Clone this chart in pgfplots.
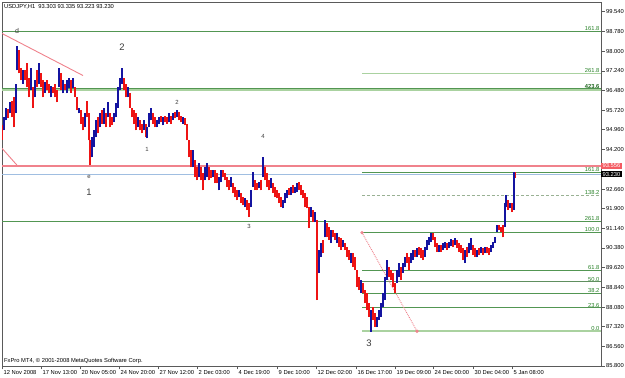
\documentclass[border=0pt]{standalone}
\usepackage{fontspec}
\setmainfont{Liberation Sans}
\usepackage{pgfplots}
\usepackage{pgfplotstable}
\pgfplotsset{compat=1.18}
\definecolor{fibg}{RGB}{82,150,82}
\definecolor{fibpale}{RGB}{170,210,160}
\definecolor{fibtxt}{RGB}{40,130,40}
\definecolor{barred}{RGB}{238,20,20}
\definecolor{barblue}{RGB}{20,20,160}
\definecolor{pinkl}{RGB}{240,130,140}
\definecolor{bidblue}{RGB}{160,190,225}
\definecolor{axgray}{RGB}{90,90,90}
\definecolor{wavegray}{RGB}{60,60,60}
\newcommand{\tf}{\fontsize{5.8}{7}\selectfont}

\pgfplotstableread{
x hi lo
4 95.44 94.93
6 95.82 95.32
10 96.02 95.59
16 96.75 95.59
17 98.22 97.26
23 97.26 96.75
31 97.37 96.48
35 96.87 96.21
39 97.53 96.75
45 96.79 96.40
51 96.67 96.21
59 97.37 96.60
63 96.87 96.37
67 96.87 96.37
69 96.98 96.56
73 96.95 96.56
79 95.82 95.59
85 95.59 95.05
92 94.66 93.89
94 94.93 94.28
96 95.32 94.66
100 95.59 95.05
104 95.82 95.20
108 96.02 95.44
114 95.59 95.24
116 95.98 95.44
118 96.60 95.82
120 96.98 96.48
122 97.37 96.75
128 96.60 96.21
138 95.44 95.05
144 95.32 94.93
147 95.05 94.62
149 95.59 95.05
151 95.82 95.32
157 95.32 95.05
159 95.44 95.20
163 95.44 95.13
169 95.59 95.24
173 95.59 95.32
177 95.71 95.44
183 95.44 95.20
193 94.16 93.50
199 93.66 93.11
205 93.50 93.00
207 93.66 93.11
213 93.39 93.11
219 93.11 92.61
221 93.39 92.92
231 93.11 92.73
239 92.61 92.34
245 92.30 91.95
251 92.61 91.95
253 93.31 92.73
259 92.92 92.69
263 93.89 93.11
271 93.08 92.69
283 92.22 91.91
285 92.50 92.11
287 92.61 92.30
291 92.73 92.42
295 92.73 92.50
297 92.88 92.53
311 91.95 91.57
315 91.76 91.37
319 90.29 89.40
321 90.56 90.02
325 91.45 90.79
331 91.06 90.56
337 90.95 90.56
343 90.68 90.41
351 90.17 89.79
361 89.13 88.63
371 87.97 87.12
377 87.70 87.31
379 87.97 87.58
381 88.24 87.70
383 88.63 88.08
385 89.24 88.35
387 89.90 89.13
397 89.52 89.01
399 89.79 89.24
403 89.79 89.40
405 90.02 89.63
411 90.17 89.79
413 90.29 89.90
417 90.37 90.02
425 90.41 90.02
427 90.68 90.29
429 90.79 90.48
431 90.95 90.60
439 90.48 90.21
443 90.56 90.29
445 90.60 90.37
449 90.60 90.37
451 90.71 90.44
455 90.75 90.48
465 90.29 89.79
469 90.56 90.17
471 90.75 90.29
477 90.29 90.02
481 90.41 90.17
485 90.41 90.17
491 90.48 90.21
493 90.60 90.37
495 90.79 90.56
497 91.26 90.99
505 92.11 91.18
506 92.42 91.95
510 92.11 91.91
514 93.31 91.84
}\upbars

\pgfplotstableread{
x hi lo
2 95.13 94.55
8 95.78 95.40
12 96.09 95.44
14 96.21 95.05
19 98.03 97.14
21 97.37 96.87
25 97.26 96.87
27 97.53 96.60
29 96.98 96.21
33 96.60 95.82
37 97.26 96.60
41 97.14 96.60
43 96.87 96.21
47 96.87 96.48
49 96.75 96.37
53 96.60 96.37
55 96.75 96.21
57 96.48 96.02
61 97.14 96.48
65 96.75 96.48
71 96.87 96.40
75 96.60 96.21
77 96.21 95.71
81 95.71 95.20
83 95.44 94.93
87 96.09 95.44
89 95.59 94.55
90 94.55 93.58
98 95.44 94.82
102 95.71 95.20
106 95.59 95.05
110 95.59 95.05
112 95.44 95.13
124 96.98 96.48
126 96.75 96.21
130 96.37 95.82
132 95.82 95.44
134 95.71 95.20
136 95.59 94.93
140 95.32 94.93
142 95.20 94.82
146 95.20 94.66
153 95.59 95.20
155 95.44 95.05
161 95.51 95.24
165 95.51 95.24
167 95.44 95.20
171 95.51 95.20
175 95.63 95.40
179 95.63 95.32
181 95.51 95.24
185 95.40 95.13
187 95.20 94.55
189 94.55 93.89
191 94.16 93.50
195 93.77 93.11
197 93.50 93.00
201 93.50 93.00
203 93.27 92.61
209 93.50 93.00
211 93.39 93.08
215 93.39 92.88
217 93.27 92.88
223 93.39 93.11
225 93.27 93.00
227 93.11 92.73
229 93.00 92.61
233 92.88 92.50
235 92.73 92.34
237 92.61 92.22
241 92.50 92.11
243 92.34 92.03
247 92.22 91.84
249 92.11 91.57
255 93.00 92.61
257 92.88 92.61
261 93.00 92.61
265 93.50 93.00
267 93.27 92.73
269 93.00 92.61
273 92.88 92.50
275 92.73 92.34
277 92.61 92.30
279 92.50 92.11
281 92.34 91.95
289 92.69 92.42
293 92.80 92.50
299 92.92 92.61
301 92.80 92.42
303 92.61 92.30
305 92.50 91.95
307 92.34 91.91
309 91.95 91.14
313 91.84 91.37
317 91.45 88.35
323 90.68 90.17
327 91.33 90.79
329 91.18 90.68
333 91.06 90.79
335 90.95 90.68
339 90.79 90.41
341 90.75 90.29
345 90.56 90.29
347 90.41 90.02
349 90.29 89.90
353 90.17 89.63
355 90.02 89.52
357 89.52 88.86
359 89.24 88.74
363 89.01 88.63
365 88.74 88.24
367 88.63 87.97
369 88.24 87.70
373 88.08 87.58
375 87.85 87.31
389 89.63 89.24
391 89.52 89.13
393 89.40 88.86
395 89.01 88.63
401 89.63 89.13
407 90.17 89.79
409 90.02 89.52
415 90.29 90.02
419 90.41 90.10
421 90.37 89.98
423 90.29 89.90
433 90.95 90.68
435 90.79 90.41
437 90.56 90.21
441 90.48 90.21
447 90.56 90.29
453 90.68 90.41
457 90.68 90.37
459 90.56 90.21
461 90.48 90.17
463 90.37 89.90
467 90.41 90.02
473 90.48 90.10
475 90.37 90.02
479 90.37 90.10
483 90.37 90.10
487 90.41 90.17
489 90.37 90.10
499 91.26 91.06
501 91.18 90.99
503 91.26 90.79
508 92.22 91.84
512 92.11 91.76
515 93.31 93.08
}\downbars

\begin{document}
\begin{tikzpicture}
\useasboundingbox[fill=white] (0,0) rectangle (625bp,378bp);
\begin{axis}[
  at={(2bp,12bp)}, anchor=south west,
  scale only axis, width=599bp, height=364bp,
  xmin=2, xmax=601, ymin=85.8, ymax=99.91,
  clip mode=individual,
  axis line style={axgray, line width=0.8bp},
  tick style={axgray, line width=0.6bp},
  tick align=outside, major tick length=3.5bp,
  xtick pos=bottom, ytick pos=right, yticklabel pos=right,
  xtick={2,41,80,119,158,197,237,277,316,356,395,433,473,512},
  xticklabels={12 Nov 2008,17 Nov 13:00,20 Nov 05:00,24 Nov 20:00,27 Nov 12:00,2 Dec 03:00,4 Dec 19:00,9 Dec 10:00,12 Dec 02:00,16 Dec 17:00,19 Dec 09:00,24 Dec 00:00,30 Dec 04:00,5 Jan 08:00},
  xticklabel style={anchor=north west, inner sep=0pt, xshift=1.5bp, yshift=-0.5bp, font=\tf, text=black},
  ytick={85.8,86.56,87.32,88.08,88.84,89.62,90.38,91.14,91.9,92.66,94.2,94.96,95.72,96.48,97.24,98.0,98.78,99.54},
  yticklabels={85.800,86.560,87.320,88.080,88.840,89.620,90.380,91.140,91.900,92.660,94.200,94.960,95.720,96.480,97.240,98.000,98.780,99.540},
  yticklabel style={anchor=west, inner sep=0pt, xshift=1.5bp, font=\tf, text=black},
]
% horizontal levels
\addplot[fibg, line width=1bp] coordinates {(2,98.77) (601,98.77)};
\addplot[fibpale, line width=1.6bp] coordinates {(362,97.14) (601,97.14)};
\addplot[fibpale, line width=2.4bp] coordinates {(2,96.49) (601,96.49)};
\addplot[fibg, line width=0.9bp] coordinates {(2,96.55) (601,96.55)};
\addplot[pinkl, line width=1.2bp] coordinates {(2,93.556) (601,93.556)};
\addplot[bidblue, line width=0.8bp] coordinates {(2,93.23) (601,93.23)};
\addplot[fibg, line width=1bp] coordinates {(362,93.31) (601,93.31)};
\addplot[fibpale!60!gray, densely dashed, line width=0.8bp] coordinates {(362,92.43) (601,92.43)};
\addplot[fibg, line width=1bp] coordinates {(2,91.41) (601,91.41)};
\addplot[fibg, line width=1bp] coordinates {(362,90.97) (601,90.97)};
\addplot[fibg, line width=1bp] coordinates {(362,89.50) (601,89.50)};
\addplot[fibg!70!gray, line width=0.9bp] coordinates {(362,89.06) (601,89.06)};
\addplot[fibg, line width=1bp] coordinates {(362,88.61) (601,88.61)};
\addplot[fibg, line width=1bp] coordinates {(362,88.05) (601,88.05)};
\addplot[fibpale, line width=2bp] coordinates {(362,87.15) (601,87.15)};
% trend lines
\addplot[pinkl, line width=0.9bp] coordinates {(2,98.69) (83,97.06)};
\addplot[pinkl, line width=0.9bp] coordinates {(2,94.24) (18,93.54)};
\addplot[pinkl, densely dotted, line width=0.9bp, mark=o, mark size=1.2bp, mark options={solid}] coordinates {(362,90.97) (417,87.15)};
% bars
\addplot[draw=none, mark=none, error bars/.cd, y dir=plus, y explicit, error mark=none, error bar style={draw=barred, line width=1.4bp}]
  table[x=x, y=lo, y error expr=\thisrow{hi}-\thisrow{lo}] {\downbars};
\addplot[draw=none, mark=none, error bars/.cd, y dir=plus, y explicit, error mark=none, error bar style={draw=barblue, line width=1.4bp}]
  table[x=x, y=lo, y error expr=\thisrow{hi}-\thisrow{lo}] {\upbars};
% texts
\node[font=\tf, anchor=west, inner sep=0pt] at (axis cs:4,99.73) {USDJPY,H1\ \ 93.303 93.335 93.223 93.230};
\node[font=\tf, anchor=west, inner sep=0pt] at (axis cs:4,85.99) {FxPro MT4, © 2001-2008 MetaQuotes Software Corp.};
\node[font=\fontsize{7}{8}\selectfont, text=wavegray] at (axis cs:17,98.80) {d};
\node[font=\fontsize{9.5}{10}\selectfont, text=wavegray] at (axis cs:122,98.15) {2};
\node[font=\fontsize{6}{7}\selectfont, text=wavegray] at (axis cs:177,96.02) {2};
\node[font=\fontsize{6}{7}\selectfont, text=wavegray] at (axis cs:147,94.20) {1};
\node[font=\fontsize{6}{7}\selectfont, text=wavegray] at (axis cs:89,93.11) {e};
\node[font=\fontsize{9.5}{10}\selectfont, text=wavegray] at (axis cs:89,92.53) {1};
\node[font=\fontsize{6}{7}\selectfont, text=wavegray] at (axis cs:263,94.70) {4};
\node[font=\fontsize{6}{7}\selectfont, text=wavegray] at (axis cs:249,91.22) {3};
\node[font=\fontsize{9.5}{10}\selectfont, text=wavegray] at (axis cs:369,86.69) {3};
% fib labels
\node[font=\tf, text=fibtxt, anchor=south east, inner sep=0.4bp] at (axis cs:600,98.77) {161.8};
\node[font=\tf, text=fibtxt, anchor=south east, inner sep=0.4bp] at (axis cs:600,97.14) {261.8};
\node[font=\tf\bfseries, text=fibtxt!80!black, anchor=south east, inner sep=0.4bp] at (axis cs:600,96.55) {423.6};
\node[font=\tf, text=fibtxt, anchor=south east, inner sep=0.4bp] at (axis cs:600,93.31) {161.8};
\node[font=\tf, text=fibtxt, anchor=south east, inner sep=0.4bp] at (axis cs:600,92.43) {138.2};
\node[font=\tf, text=fibtxt, anchor=south east, inner sep=0.4bp] at (axis cs:600,91.41) {261.8};
\node[font=\tf, text=fibtxt, anchor=south east, inner sep=0.4bp] at (axis cs:600,90.97) {100.0};
\node[font=\tf, text=fibtxt, anchor=south east, inner sep=0.4bp] at (axis cs:600,89.50) {61.8};
\node[font=\tf, text=fibtxt, anchor=south east, inner sep=0.4bp] at (axis cs:600,89.06) {50.0};
\node[font=\tf, text=fibtxt, anchor=south east, inner sep=0.4bp] at (axis cs:600,88.61) {38.2};
\node[font=\tf, text=fibtxt, anchor=south east, inner sep=0.4bp] at (axis cs:600,88.05) {23.6};
\node[font=\tf, text=fibtxt, anchor=south east, inner sep=0.4bp] at (axis cs:600,87.15) {0.0};
% price boxes
\node[fill=pinkl!70!red, text=white, font=\tf, inner xsep=1.5bp, inner ysep=0.8bp, anchor=west] at (axis cs:601,93.556) {93.556};
\node[fill=black, text=white, font=\tf, inner xsep=1.5bp, inner ysep=0.8bp, anchor=west] at (axis cs:601,93.23) {93.230};
\end{axis}
\end{tikzpicture}
\end{document}
